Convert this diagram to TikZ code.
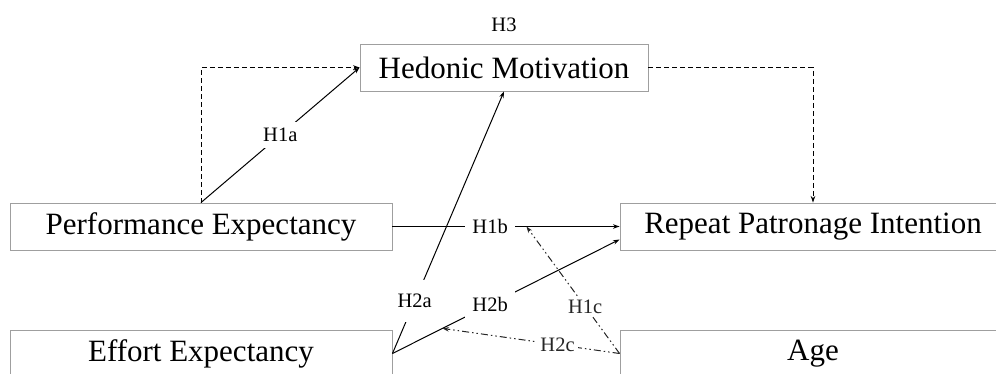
\documentclass[tikz,border=0pt]{standalone}
\usepackage{fontspec}
\setmainfont{Liberation Serif}
\usetikzlibrary{positioning, arrows.meta}
\tikzset{>={Stealth[length=6.5pt,width=4.5pt]}, % small filled arrow heads
factor/.style={draw=gray!75, line width=0.9pt, minimum height=47pt, font=\fontsize{31}{36}\selectfont}, % construct boxes
hyp/.style={fill=white, inner xsep=7pt, inner ysep=6pt, font=\fontsize{20.5}{24}\selectfont}, % hypothesis labels, they cut the line
path/.style={->, line width=1pt}, % direct effects
mediate/.style={->, line width=1pt, dash pattern=on 5pt off 3pt}, % mediation via hedonic motivation
moderate/.style={->, line width=1pt, black!85, dash pattern=on 7pt off 3pt on 1.5pt off 3pt on 1.5pt off 3pt}, % moderation by age
}

\begin{document}
\begin{tikzpicture}[x=1pt, y=-1pt]
  \useasboundingbox (0,0) rectangle (996,374);

  \node[factor, minimum width=288pt] (hm) at (504,67.5) {Hedonic Motivation};
  \node[factor, minimum width=382pt] (pe) at (201,226.5) {Performance Expectancy};
  \node[factor, minimum width=382pt] (ee) at (201,353.5) {Effort Expectancy};
  \node[factor, minimum width=386pt] (rpi) at (813,226.5) {Repeat Patronage Intention};
  \node[factor, minimum width=386pt] (age) at (813,353.5) {Age};
  \node[hyp, inner ysep=3pt, above=9pt of hm] (h3) {H3};

  \draw[mediate] (pe.north) |- (hm.west);
  \draw[mediate] (hm.east) -| (rpi.north);

  \draw[path] (pe.north) -- node[hyp, inner xsep=5pt] {H1a} (hm.west);
  \draw[path] (pe.east) -- node[hyp, pos=0.43] {H1b} coordinate[pos=0.59] (onh1b) (rpi.west);
  \draw[path] (ee.east) -- node[hyp, pos=0.2, inner ysep=14pt] {H2a} (hm.south);
  \draw[path] (ee.east) -- node[hyp, pos=0.43] {H2b} coordinate[pos=0.22] (onh2b) ([yshift=-13pt]rpi.west);

  \draw[moderate] (age.west) -- node[hyp, pos=0.37, inner sep=2pt] {H1c} (onh1b);
  \draw[moderate] (age.west) -- node[hyp, pos=0.35, inner sep=3pt] {H2c} (onh2b);

\end{tikzpicture}
\end{document}
